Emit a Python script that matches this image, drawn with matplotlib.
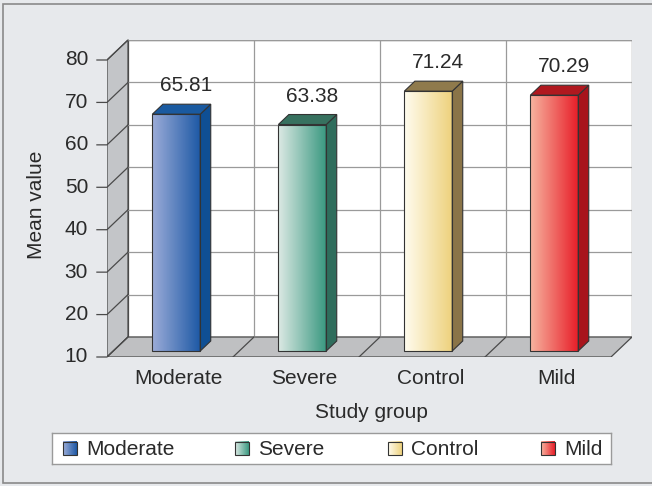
import numpy as np
import matplotlib
matplotlib.use("Agg")
import matplotlib.pyplot as plt
from matplotlib.patches import Polygon, Rectangle

plt.rcParams['font.family'] = ['Liberation Sans', 'DejaVu Sans']

# data
groups = ['Moderate', 'Severe', 'Control', 'Mild']
means = [65.81, 63.38, 71.24, 70.29]
yticks = [10, 20, 30, 40, 50, 60, 70, 80]

# colours: gradient left, gradient right, side, top
light = ['#9cacd8', '#dce9e4', '#fffcef', '#f7b4a0']
dark = ['#1f5aa6', '#3c9a82', '#eed27e', '#e8202a']
side = ['#0f4f94', '#2f6d5c', '#8a7448', '#a8141c']
top = ['#1a5aa0', '#37715f', '#8f7a4c', '#b0181f']

bg = '#e7e9ec'
txt = '#2a2a2a'

fig = plt.figure(figsize=(6.52, 4.86), dpi=100)
fig.patch.set_facecolor(bg)
fig.patches.append(Rectangle((0.005, 0.006), 1.2, 0.985, transform=fig.transFigure,
                             facecolor=bg, edgecolor='#8a8a8a', lw=1.2, zorder=-10))

ax = fig.add_axes([107/652, (486-357)/486, (632-107)/652, (357-40)/486])
ax.set_axis_off()
dx = 21/126.0      # depth offset in x units
dy = 20/4.243      # depth offset in y units
ymin, ymax = 10, 80
x0, x1 = -0.5, len(groups) - 0.5

edge = '#4a4a4a'
# back wall
ax.add_patch(Rectangle((x0 + dx, ymin + dy), x1 - x0, ymax - ymin, facecolor='white',
                       edgecolor=edge, lw=0.9, zorder=1))
# left wall
ax.add_patch(Polygon([(x0, ymin), (x0 + dx, ymin + dy), (x0 + dx, ymax + dy), (x0, ymax)],
                     closed=True, facecolor='#c3c5c8', edgecolor=edge, lw=0.9, zorder=1))
# floor
ax.add_patch(Polygon([(x0, ymin), (x1, ymin), (x1 + dx, ymin + dy), (x0 + dx, ymin + dy)],
                     closed=True, facecolor='#bfc0c2', edgecolor=edge, lw=0.9, zorder=1))

for v in yticks[1:]:
    ax.plot([x0 + dx, x1 + dx], [v + dy, v + dy], color='#9a9a9a', lw=0.9, zorder=1.5)
for v in yticks:
    ax.plot([x0 - 0.08, x0, x0 + dx], [v, v, v + dy], color=edge, lw=0.9, zorder=1.6,
            clip_on=False)
    ax.text(x0 - 0.15, v, str(v), ha='right', va='center', fontsize=15, color=txt)
for k in range(1, len(groups)):
    xb = k - 0.5
    ax.plot([xb + dx, xb + dx], [ymin + dy, ymax + dy], color='#9a9a9a', lw=0.9, zorder=1.5)
    ax.plot([xb, xb + dx], [ymin, ymin + dy], color=edge, lw=0.9, zorder=1.6)

# bars
f0, f1 = 0.3, 0.8
w = 0.38
for i, (g, m) in enumerate(zip(groups, means)):
    bl = i - w/2 + f0*dx
    br = i + w/2 + f0*dx
    bb = ymin + f0*dy
    bt = m + f0*dy
    sx = (f1 - f0)*dx
    sy = (f1 - f0)*dy
    c1 = np.array(matplotlib.colors.to_rgb(light[i]))
    c2 = np.array(matplotlib.colors.to_rgb(dark[i]))
    t = np.linspace(0, 1, 64)[:, None]
    grad = (c1*(1 - t) + c2*t)[None, :, :]
    ax.imshow(grad, extent=[bl, br, bb, bt], aspect='auto', zorder=3, interpolation='bilinear')
    ax.add_patch(Rectangle((bl, bb), br - bl, bt - bb, fill=False, edgecolor='#333333',
                           lw=0.8, zorder=3.2))
    ax.add_patch(Polygon([(br, bb), (br + sx, bb + sy), (br + sx, bt + sy), (br, bt)],
                         closed=True, facecolor=side[i], edgecolor='#333333', lw=0.8, zorder=3.1))
    ax.add_patch(Polygon([(bl, bt), (br, bt), (br + sx, bt + sy), (bl + sx, bt + sy)],
                         closed=True, facecolor=top[i], edgecolor='#333333', lw=0.8, zorder=3.1))
    ax.text(i + 0.75*dx, m + f1*dy + 3, f'{m:.2f}', ha='center', va='baseline',
            fontsize=15, color=txt, zorder=4)
    ax.text(i + 0.065, ymin - 5, g, ha='center', va='center', fontsize=15, color=txt)

ax.set_xlim(x0, x1 + dx)
ax.set_ylim(ymin, ymax + dy)

fig.text(37/652, 1 - 205/486, 'Mean value', rotation=90, ha='center', va='center',
         fontsize=15, color=txt)
fig.text(371/652, 1 - 413/486, 'Study group', ha='center', va='center', fontsize=15, color=txt)

# legend
lax = fig.add_axes([52/652, (486-464)/486, 559/652, 31/486])
lax.set_xticks([])
lax.set_yticks([])
lax.set_facecolor('white')
for s in lax.spines.values():
    s.set_color('#9a9a9a')
    s.set_linewidth(1.0)
starts = [11/559, 183/559, 336/559, 489/559]
sq_w = 14/559
sq_h = 13/31
for i, g in enumerate(groups):
    c1 = np.array(matplotlib.colors.to_rgb(light[i]))
    c2 = np.array(matplotlib.colors.to_rgb(dark[i]))
    t = np.linspace(0, 1, 32)[:, None]
    grad = (c1*(1 - t) + c2*t)[None, :, :]
    xs = starts[i]
    lax.imshow(grad, extent=[xs, xs + sq_w, 0.5 - sq_h/2, 0.5 + sq_h/2], aspect='auto',
               zorder=2, interpolation='bilinear')
    lax.add_patch(Rectangle((xs, 0.5 - sq_h/2), sq_w, sq_h, fill=False, edgecolor='#333333',
                            lw=0.8, zorder=3))
    lax.text(xs + 23/559, 0.48, g, ha='left', va='center', fontsize=15, color=txt)
lax.set_xlim(0, 1)
lax.set_ylim(0, 1)

fig.savefig('out.png', dpi=100, facecolor=bg)
